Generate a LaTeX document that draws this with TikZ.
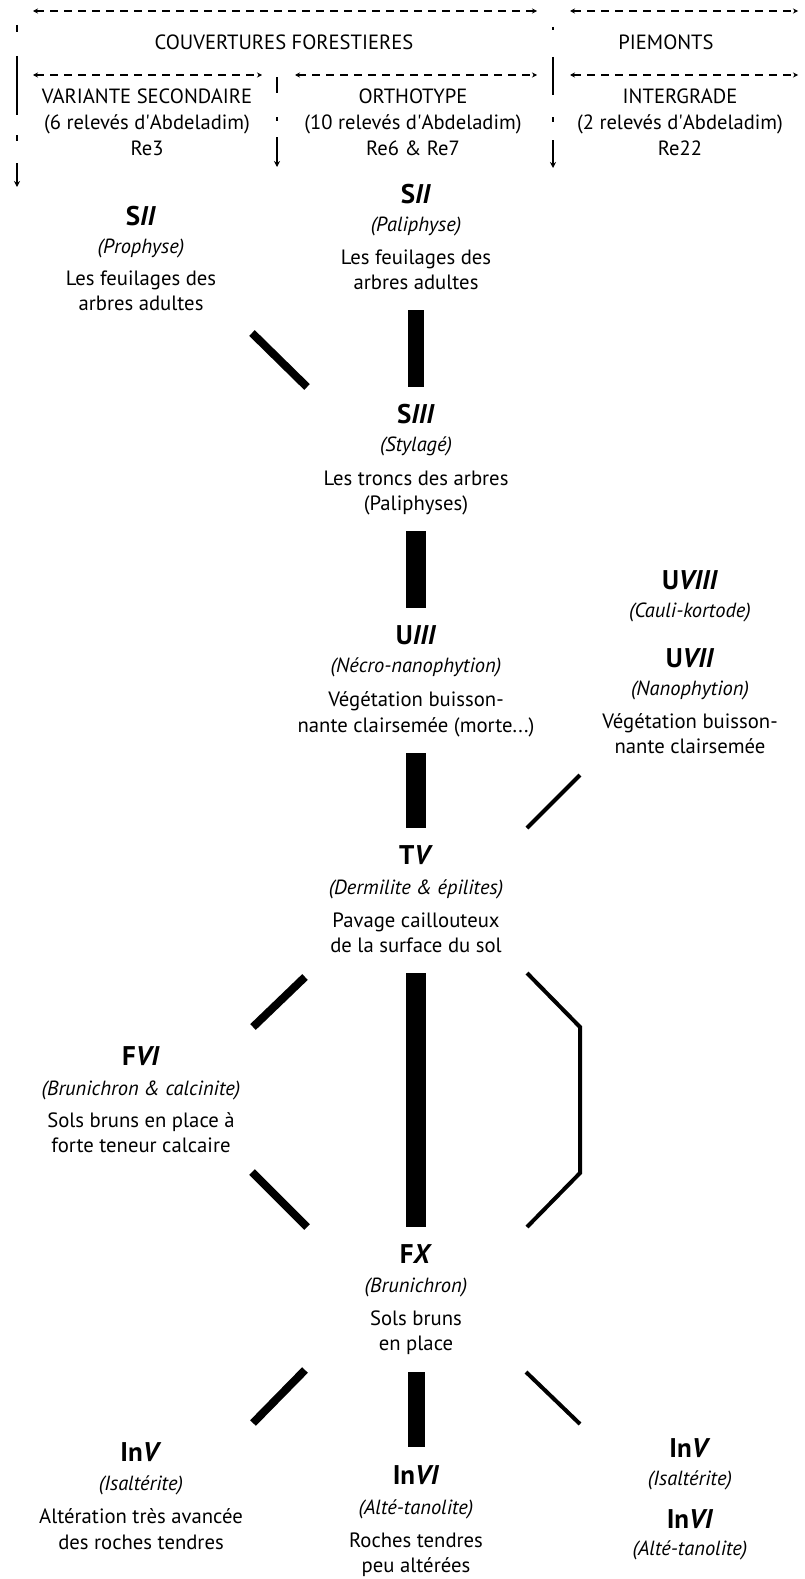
\documentclass[tikz,border=0pt]{standalone}
\usepackage{fontspec}
\setmainfont{PT Sans}
\usetikzlibrary{arrows.meta}
\newcommand{\apos}{\textquotesingle}
\begin{document}
\begin{tikzpicture}[x=1pt,y=-1pt,
  hdr/.style={anchor=base,inner sep=0pt,font=\fontsize{20.6}{24}\selectfont},
  ttl/.style={anchor=base,inner sep=0pt,font=\fontsize{27}{30}\selectfont\bfseries},
  itl/.style={anchor=base,inner sep=0pt,font=\fontsize{20.5}{24}\selectfont\itshape},
  txt/.style={anchor=base,inner sep=0pt,font=\fontsize{20.7}{24}\selectfont},
  dsh/.style={line width=2pt,dash pattern=on 8pt off 6pt,{Stealth[length=5pt,width=5pt]}-{Stealth[length=5pt,width=5pt]}},
  vdsh/.style={line width=2.5pt,-{Stealth[length=6pt,width=6pt]}},
  bar/.style={line width=#1}
]
\fill[white] (0,0) rectangle (805,1579);
\useasboundingbox (0,0) rectangle (805,1579);

% ---------- header ----------
\node[hdr] (cf) at (284,50) {COUVERTURES FORESTIERES};
\node[hdr] (pm) at (666,50) {PIEMONTS};
\node[hdr] (vs1) at (147,103) {VARIANTE SECONDAIRE};
\node[hdr] (vs2) at (147,129) {(6 relevés d\apos Abdeladim)};
\node[hdr] (vs3) at (147,155) {Re3};
\node[hdr] (or1) at (413,103) {ORTHOTYPE};
\node[hdr] (or2) at (413,129) {(10 relevés d\apos Abdeladim)};
\node[hdr] (or3) at (413,155) {Re6 \& Re7};
\node[hdr] (ig1) at (680,103) {INTERGRADE};
\node[hdr] (ig2) at (680,129) {(2 relevés d\apos Abdeladim)};
\node[hdr] (ig3) at (680,155) {Re22};

\coordinate (h1a) at (33,11);  \coordinate (h1b) at (537,11);
\coordinate (h2a) at (570,11); \coordinate (h2b) at (798,11);
\coordinate (h3a) at (33,75);  \coordinate (h3b) at (262,75);
\coordinate (h4a) at (295,75); \coordinate (h4b) at (537,75);
\coordinate (h5a) at (570,75); \coordinate (h5b) at (798,75);
\draw[dsh] (h1a) -- (h1b);
\draw[dsh] (h2a) -- (h2b);
\draw[dsh] (h3a) -- (h3b);
\draw[dsh] (h4a) -- (h4b);
\draw[dsh] (h5a) -- (h5b);

\coordinate (v1a) at (17,25);  \coordinate (v1b) at (17,187);
\coordinate (v2a) at (277,77); \coordinate (v2b) at (277,167);
\coordinate (v3a) at (553,27); \coordinate (v3b) at (553,168);
\draw[vdsh,dash pattern=on 7pt off 24pt on 59pt off 20pt on 6pt off 22pt on 40pt] (v1a) -- (v1b);
\draw[vdsh,dash pattern=on 16pt off 24pt on 4pt off 16pt on 40pt] (v2a) -- (v2b);
\draw[vdsh,dash pattern=on 3pt off 27pt on 38pt off 22pt on 5pt off 18pt on 40pt] (v3a) -- (v3b);

% ---------- SII (left) ----------
\node[ttl] (sIIa) at (141,225) {S\textit{II}};
\node[itl] (sIIa-i) at (141,253) {(Prophyse)};
\node[txt] (sIIa-1) at (141,285) {Les feuilages des};
\node[txt] (sIIa-2) at (141,310) {arbres adultes};

% ---------- SII (middle) ----------
\node[ttl] (sIIb) at (416,203) {S\textit{II}};
\node[itl] (sIIb-i) at (416,231) {(Paliphyse)};
\node[txt] (sIIb-1) at (416,264) {Les feuilages des};
\node[txt] (sIIb-2) at (416,289) {arbres adultes};

% ---------- SIII ----------
\node[ttl] (sIII) at (416,423) {S\textit{III}};
\node[itl] (sIII-i) at (416,451) {(Stylagé)};
\node[txt] (sIII-1) at (416,485) {Les troncs des arbres};
\node[txt] (sIII-2) at (416,510) {(Paliphyses)};

% ---------- UIII ----------
\node[ttl] (uIII) at (416,644) {U\textit{III}};
\node[itl] (uIII-i) at (416,672) {(Nécro-nanophytion)};
\node[txt] (uIII-1) at (416,706) {Végétation buisson-};
\node[txt] (uIII-2) at (416,732) {nante clairsemée (morte...)};

% ---------- UVIII / UVII ----------
\node[ttl] (uVIII) at (690,589) {U\textit{VIII}};
\node[itl] (uVIII-i) at (690,617) {(Cauli-kortode)};
\node[ttl] (uVII) at (690,667) {U\textit{VII}};
\node[itl] (uVII-i) at (690,695) {(Nanophytion)};
\node[txt] (uVII-1) at (690,728) {Végétation buisson-};
\node[txt] (uVII-2) at (690,753) {nante clairsemée};

% ---------- TV ----------
\node[ttl] (tV) at (416,864) {T\textit{V}};
\node[itl] (tV-i) at (416,894) {(Dermilite \& épilites)};
\node[txt] (tV-1) at (416,927) {Pavage caillouteux};
\node[txt] (tV-2) at (416,952) {de la surface du sol};

% ---------- FVI ----------
\node[ttl] (fVI) at (141,1065) {F\textit{VI}};
\node[itl] (fVI-i) at (141,1095) {(Brunichron \& calcinite)};
\node[txt] (fVI-1) at (141,1127) {Sols bruns en place à};
\node[txt] (fVI-2) at (141,1152) {forte teneur calcaire};

% ---------- FX ----------
\node[ttl] (fX) at (416,1263) {F\textit{X}};
\node[itl] (fX-i) at (416,1292) {(Brunichron)};
\node[txt] (fX-1) at (416,1325) {Sols bruns};
\node[txt] (fX-2) at (416,1350) {en place};

% ---------- InV (left) ----------
\node[ttl] (inVa) at (141,1461) {In\textit{V}};
\node[itl] (inVa-i) at (141,1490) {(Isaltérite)};
\node[txt] (inVa-1) at (141,1523) {Altération très avancée};
\node[txt] (inVa-2) at (141,1549) {des roches tendres};

% ---------- InVI (middle) ----------
\node[ttl] (inVIb) at (416,1484) {In\textit{VI}};
\node[itl] (inVIb-i) at (416,1514) {(Alté-tanolite)};
\node[txt] (inVIb-1) at (416,1547) {Roches tendres};
\node[txt] (inVIb-2) at (416,1572) {peu altérées};

% ---------- InV / InVI (right) ----------
\node[ttl] (inVc) at (690,1457) {In\textit{V}};
\node[itl] (inVc-i) at (690,1485) {(Isaltérite)};
\node[ttl] (inVId) at (690,1528) {In\textit{VI}};
\node[itl] (inVId-i) at (690,1555) {(Alté-tanolite)};

% ---------- connecting bars ----------
\coordinate (b1a) at (252,333);  \coordinate (b1b) at (307,387);
\coordinate (b2a) at (416,310);  \coordinate (b2b) at (416,387);
\coordinate (b3a) at (416,531);  \coordinate (b3b) at (416,608);
\coordinate (b4a) at (416,753);  \coordinate (b4b) at (416,828);
\coordinate (b5a) at (580,775);  \coordinate (b5b) at (527,828);
\coordinate (b6a) at (305,977);  \coordinate (b6b) at (253,1027);
\coordinate (b7a) at (416,973);  \coordinate (b7b) at (416,1227);
\coordinate (b8a) at (527,973);  \coordinate (b8b) at (580,1027);
\coordinate (b8c) at (580,1173); \coordinate (b8d) at (527,1227);
\coordinate (b9a) at (252,1172); \coordinate (b9b) at (307,1227);
\coordinate (b10a) at (305,1370); \coordinate (b10b) at (253,1423);
\coordinate (b11a) at (416,1372); \coordinate (b11b) at (416,1447);
\coordinate (b12a) at (526,1372); \coordinate (b12b) at (580,1424);

\draw[bar=8pt] (b1a) -- (b1b);
\draw[bar=16pt] (b2a) -- (b2b);
\draw[bar=20pt] (b3a) -- (b3b);
\draw[bar=20pt] (b4a) -- (b4b);
\draw[bar=4pt] (b5a) -- (b5b);
\draw[bar=8pt] (b6a) -- (b6b);
\draw[bar=20pt] (b7a) -- (b7b);
\draw[bar=4pt,line join=miter] (b8a) -- (b8b) -- (b8c) -- (b8d);
\draw[bar=8pt] (b9a) -- (b9b);
\draw[bar=8pt] (b10a) -- (b10b);
\draw[bar=17pt] (b11a) -- (b11b);
\draw[bar=4pt] (b12a) -- (b12b);
\end{tikzpicture}
\end{document}
